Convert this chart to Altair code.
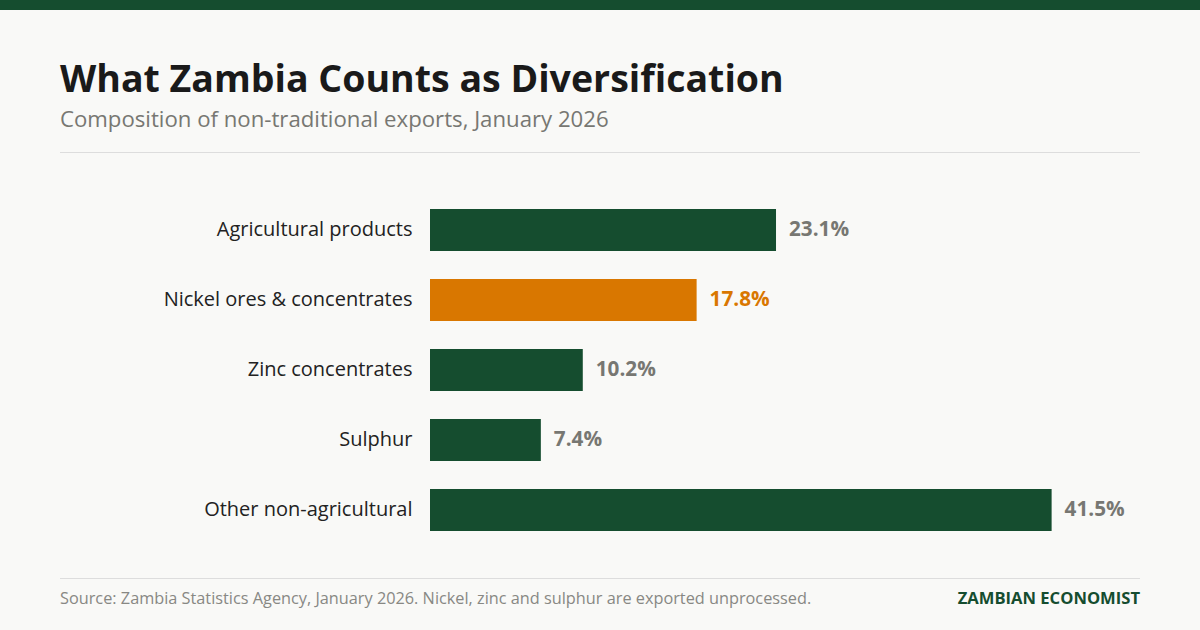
import altair as alt
import pandas as pd

categories = ["Agricultural products", "Nickel ores & concentrates", "Zinc concentrates", "Sulphur", "Other non-agricultural"]
values = [23.1, 17.8, 10.2, 7.4, 41.5]
highlight = [False, True, False, False, False]

GREEN = "#154d2f"
ORANGE = "#d97700"
GRAY = "#777772"
FONT = "Open Sans"

df = pd.DataFrame({
    "category": categories,
    "value": values,
    "hl": ["hl" if h else "base" for h in highlight],
    "label": [f"{v:.1f}%" for v in values],
})

x = alt.X("value:Q", scale=alt.Scale(domain=[0, 47.4], nice=False, zero=True), axis=None)
y = alt.Y("category:N", sort=categories,
          scale=alt.Scale(paddingInner=0.4, paddingOuter=0.2),
          axis=alt.Axis(title=None, domain=False, ticks=False, labelFont=FONT,
                        labelFontSize=20, labelColor="#222222", labelPadding=18,
                        labelLimit=400))

bars = alt.Chart(df).mark_bar(size=42).encode(
    x=x, y=y,
    color=alt.Color("hl:N", scale=alt.Scale(domain=["base", "hl"], range=[GREEN, ORANGE]), legend=None))
labels = alt.Chart(df).mark_text(align="left", baseline="middle", dx=13, font=FONT,
                                 fontSize=20.7, fontWeight="bold").encode(
    x=x, y=alt.Y("category:N", sort=categories), text="label:N",
    color=alt.Color("hl:N", scale=alt.Scale(domain=["base", "hl"], range=[GRAY, ORANGE]), legend=None))

# Plot origin at (430, 195)
OX, OY = 430, 195
deco = pd.DataFrame({"k": [0]})

def rect(x1, x2, y1, y2, c):
    return alt.Chart(deco).mark_rect(color=c).encode(
        x=alt.value(x1 - OX), x2=alt.value(x2 - OX), y=alt.value(y1 - OY), y2=alt.value(y2 - OY))

def txt(s, xp, yp, size, col, weight="normal", align="left"):
    return alt.Chart(deco).mark_text(text=s, align=align, baseline="alphabetic", font=FONT,
                                     fontSize=size, color=col, fontWeight=weight).encode(
        x=alt.value(xp - OX), y=alt.value(yp - OY))

layers = [
    rect(0, 1200, 0, 10, GREEN),
    txt("What Zambia Counts as Diversification", 60, 92, 37.5, "#1a1a1a", "bold"),
    txt("Composition of non-traditional exports, January 2026", 60, 127, 22.2, GRAY),
    rect(60, 1140, 152, 153, "#dddddd"),
    rect(60, 1140, 578, 579, "#dddddd"),
    txt("Source: Zambia Statistics Agency, January 2026. Nickel, zinc and sulphur are exported unprocessed.", 60, 604, 16.3, "#888884"),
    txt("ZAMBIAN ECONOMIST", 1140, 604, 16.6, GREEN, "bold", "right"),
    bars, labels,
]

chart = alt.layer(*layers).resolve_scale(color="independent").properties(
    width=710, height=350,
    background="#f9f9f7",
    padding={"left": 430, "top": 195, "right": 60, "bottom": 85},
    autosize=alt.AutoSizeParams(type="none"),
).configure_view(stroke=None)

chart.save("out.html", embed_options={"renderer": "svg", "actions": False})
